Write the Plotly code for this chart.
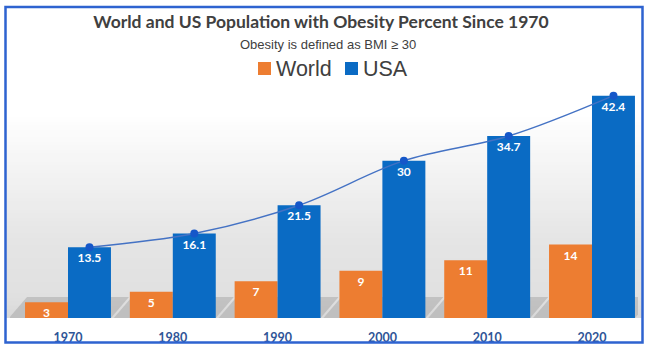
import plotly.graph_objects as go

# Obesity prevalence (% of adults), by decade
years = ["1970", "1980", "1990", "2000", "2010", "2020"]
world = [3, 5, 7, 9, 11, 14]
usa = [13.5, 16.1, 21.5, 30, 34.7, 42.4]
series_names = ["World", "USA"]

ORANGE = "#ED7D31"
BLUE = "#0A6BC4"
LINE_BLUE = "#4472C4"
TEXT_GREY = "#404040"
TICK_BLUE = "#2F5597"

W, H = 645, 348
L, R, T, B = 10, 638, 82, 318   # plot area in pixels
BARGAP = 0.18
X_RANGE = [-0.5534, 5.439]
Y_RANGE = [0, 45]
PX_PER_X = (R - L) / (X_RANGE[1] - X_RANGE[0])


def px_x(p):
    return (p - L) / (R - L)


def px_y(p):
    return (B - p) / (B - T)


xs = list(range(len(years)))
usa_offset = (1 - BARGAP) / 4
label_font = dict(family="Lato", size=12, color="white", weight="bold")

fig = go.Figure()

fig.add_trace(go.Bar(
    x=xs, y=world, name=series_names[0],
    marker=dict(color=ORANGE, line=dict(width=0)),
    texttemplate="%{y}", textposition="inside", insidetextanchor="end",
    constraintext="none", textangle=0, textfont=label_font,
))
fig.add_trace(go.Bar(
    x=xs, y=usa, name=series_names[1],
    marker=dict(color=BLUE, line=dict(width=0)),
    texttemplate="%{y}", textposition="inside", insidetextanchor="end",
    constraintext="none", textangle=0, textfont=label_font,
))
# trend line over the USA bars
fig.add_trace(go.Scatter(
    x=[x + usa_offset for x in xs], y=usa, mode="lines+markers",
    line=dict(color=LINE_BLUE, width=1.4, shape="spline", smoothing=1),
    marker=dict(color="#1557C9", size=8),
    showlegend=False, hoverinfo="skip",
))

# soft grey backdrop fading in towards the floor
shapes = []
def grey_at(py):
    if py < 115:
        return 255
    if py < 240:
        return 255 - (py - 115) / 125 * 26
    if py < 298:
        return 229 - (py - 240) / 58 * 5
    return 224 - (py - 298) / 20 * 8

step = 4
py = 110
while py < B:
    g = int(round(grey_at(py + step / 2)))
    shapes.append(dict(
        type="rect", xref="paper", yref="paper", layer="below",
        x0=px_x(6), x1=px_x(642), y0=px_y(min(py + step, B)), y1=px_y(py) + 0.002,
        fillcolor=f"rgb({g},{g},{g})", line=dict(width=0),
    ))
    py += step

# floor shadows cast by each pair of bars
half = (1 - BARGAP) / 2
for x in xs:
    xl, xr = x - half, x + half
    d = lambda px: px / PX_PER_X
    y_top = px_y(B - 21)
    path = (f"M {xl - d(16)},0 L {xl + d(2)},{y_top} "
            f"L {xr + d(18)},{y_top} L {xr},0 Z")
    shapes.append(dict(
        type="path", xref="x", yref="paper", layer="below", path=path,
        fillcolor="rgba(170,170,170,0.55)", line=dict(width=0),
    ))

# legend swatches
for colour, (x0, x1) in ((ORANGE, (258, 271)), (BLUE, (345, 358))):
    shapes.append(dict(
        type="rect", xref="paper", yref="paper", layer="above",
        x0=px_x(x0), x1=px_x(x1), y0=px_y(75), y1=px_y(62),
        fillcolor=colour, line=dict(width=0),
    ))

# blue frame around the whole chart
shapes.append(dict(
    type="rect", xref="paper", yref="paper", layer="above",
    x0=px_x(5.5), x1=px_x(642.5), y0=px_y(342.5), y1=px_y(7),
    line=dict(color="#2E63D0", width=2.5), fillcolor="rgba(0,0,0,0)",
))

legend_font = dict(family="Liberation Sans", size=21.5, color=TEXT_GREY)

fig.update_layout(
    width=W, height=H,
    margin=dict(l=L, r=W - R, t=T, b=H - B, pad=0),
    paper_bgcolor="white", plot_bgcolor="rgba(0,0,0,0)",
    barmode="group", bargap=BARGAP, bargroupgap=0,
    showlegend=False,
    title=dict(
        text="World and US Population with Obesity Percent Since 1970",
        x=321 / W, xanchor="center", y=1 - 22 / H, yanchor="middle",
        font=dict(family="Lato", size=17.5, color=TEXT_GREY, weight="bold"),
    ),
    annotations=[
        dict(text="Obesity is defined as BMI ≥ 30",
             xref="paper", yref="paper", x=px_x(328), y=px_y(45),
             xanchor="center", yanchor="middle", showarrow=False,
             font=dict(family="Liberation Sans", size=13, color=TEXT_GREY)),
        dict(text=series_names[0],
             xref="paper", yref="paper", x=px_x(274), y=px_y(68.5),
             xanchor="left", yanchor="middle", showarrow=False,
             font=legend_font),
        dict(text=series_names[1],
             xref="paper", yref="paper", x=px_x(361), y=px_y(68.5),
             xanchor="left", yanchor="middle", showarrow=False,
             font=legend_font),
    ],
    xaxis=dict(
        range=X_RANGE, tickvals=xs, ticktext=years, automargin=False,
        showgrid=False, zeroline=False, showline=False,
        ticks="outside", ticklen=8, tickcolor="rgba(0,0,0,0)",
        tickfont=dict(family="Lato", size=12.5, color=TICK_BLUE, weight="bold"),
    ),
    yaxis=dict(range=Y_RANGE, visible=False, showgrid=False, zeroline=False,
               automargin=False),
    shapes=shapes,
)

fig.write_html("out.html")
